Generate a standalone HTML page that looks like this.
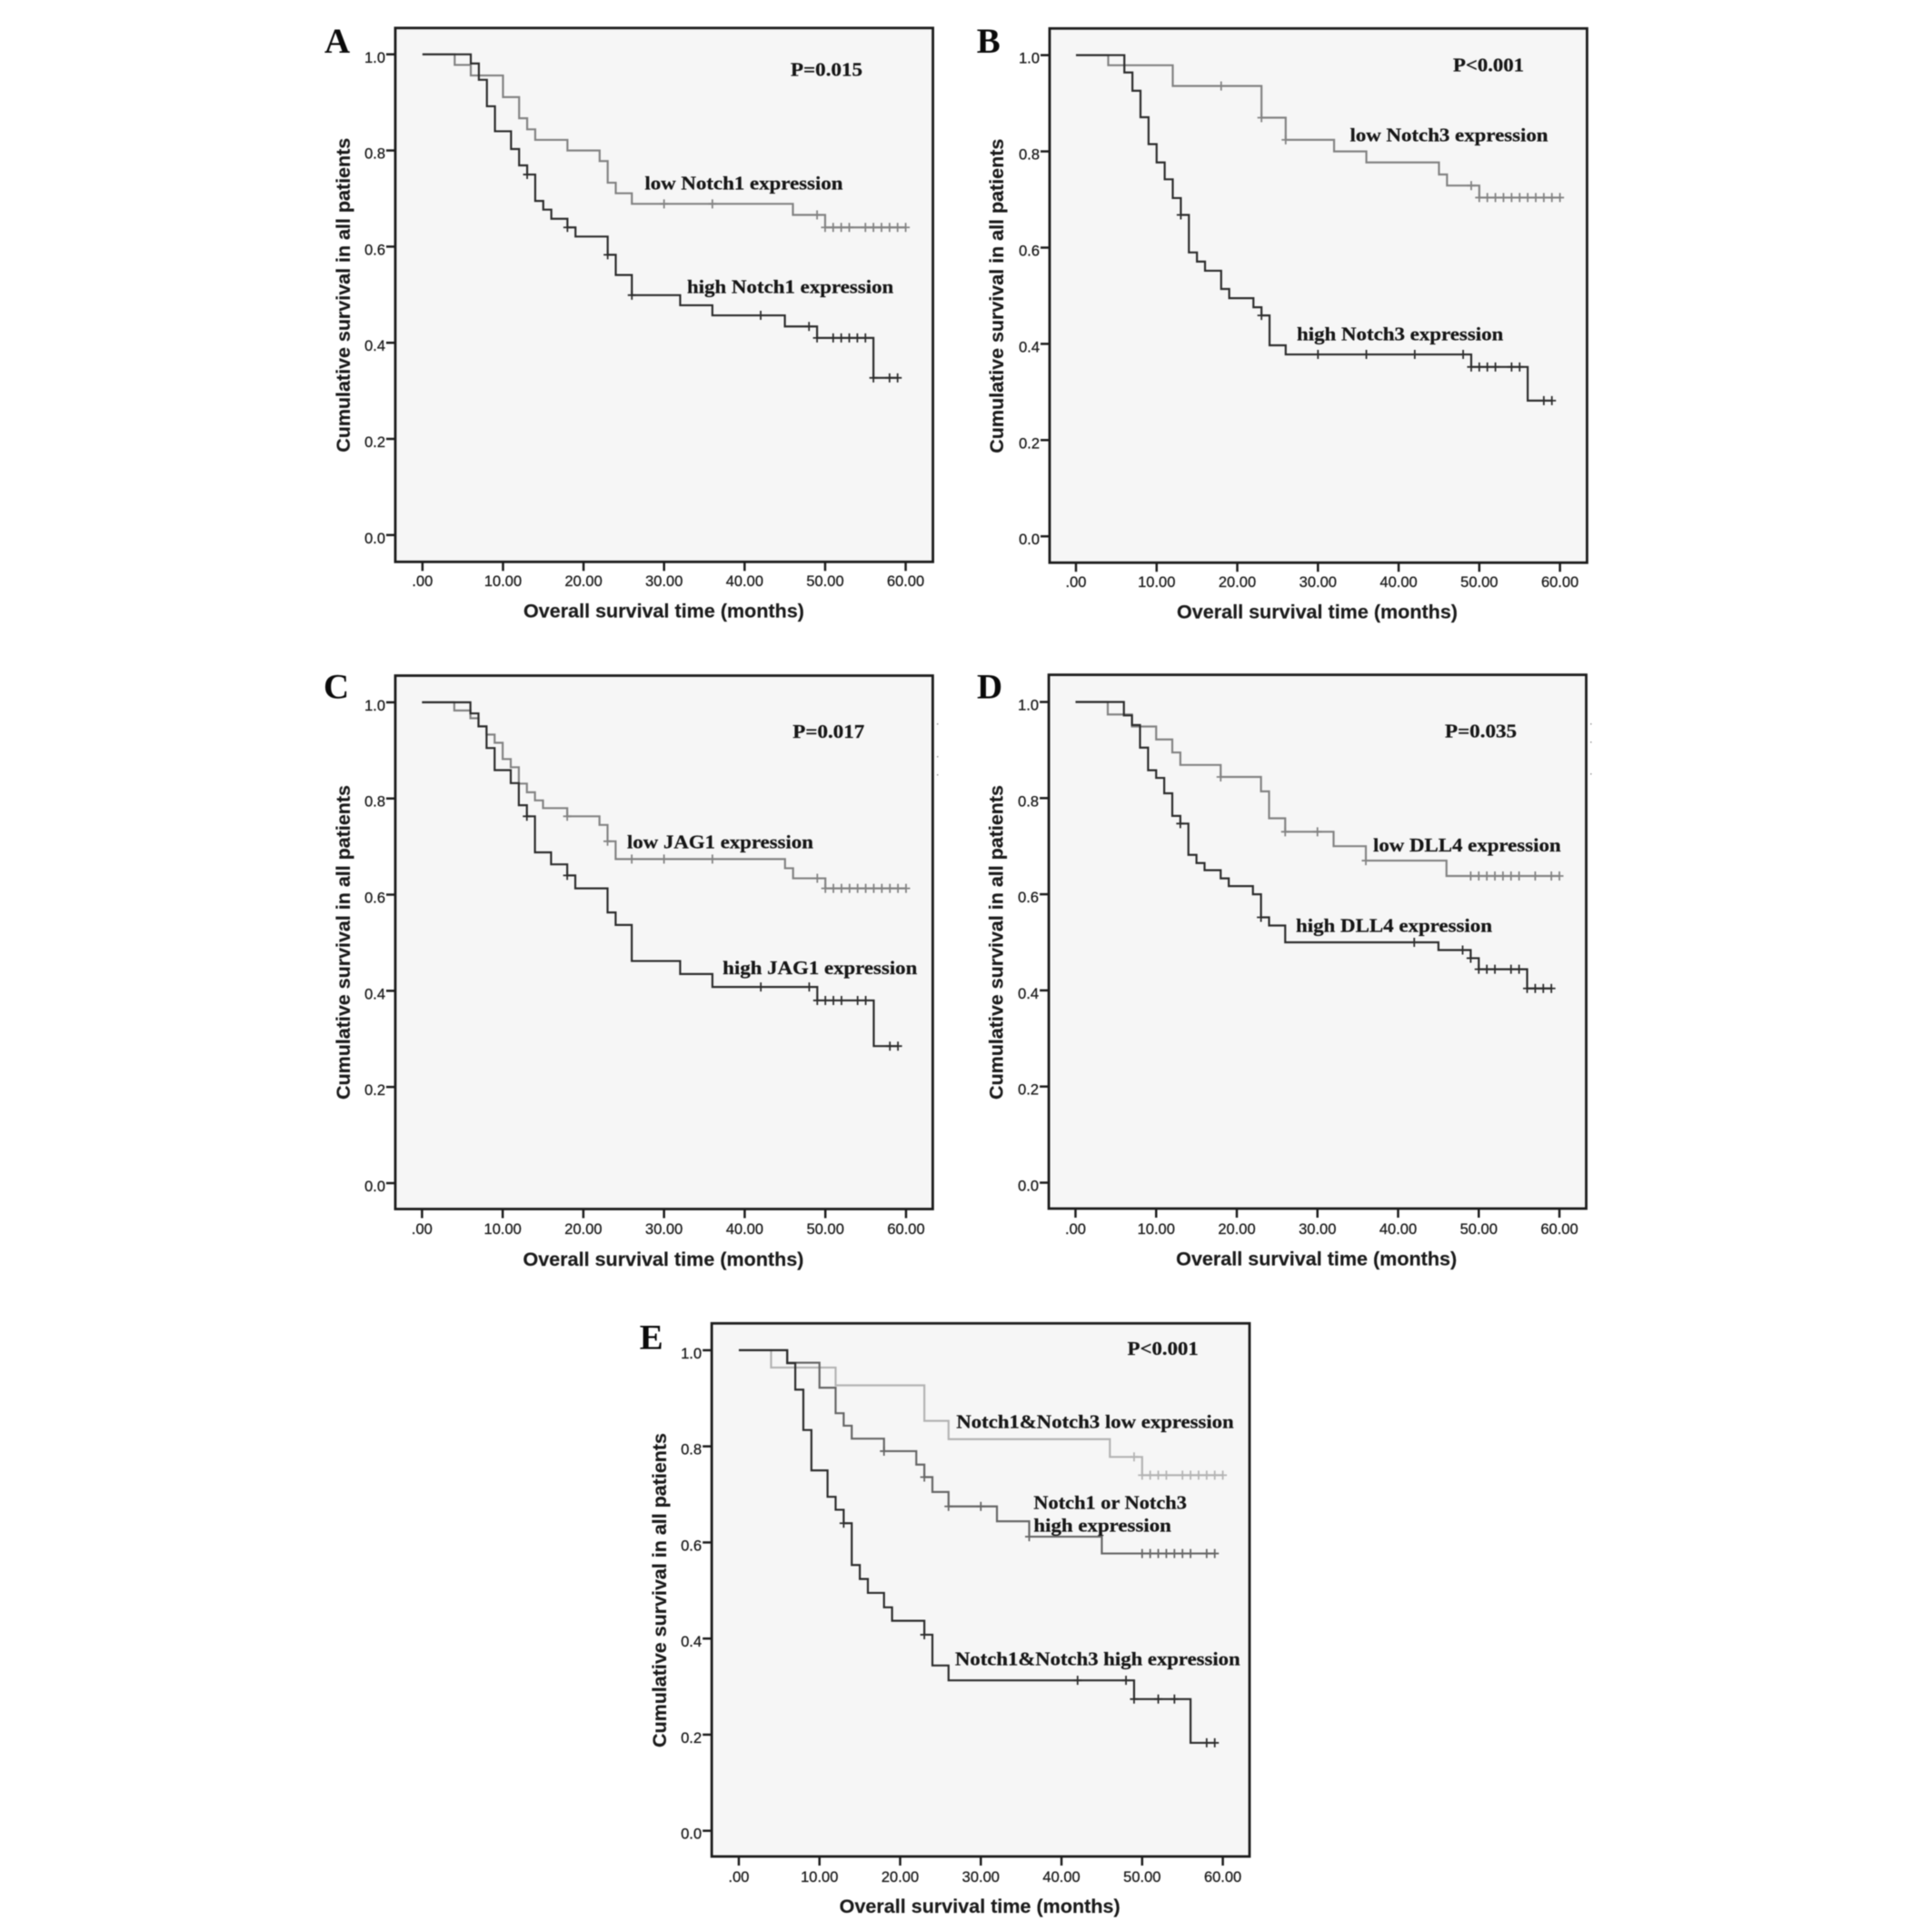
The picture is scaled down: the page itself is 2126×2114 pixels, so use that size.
<!DOCTYPE html>
<html lang="en">
<head>
<meta charset="utf-8">
<title>Kaplan-Meier survival curves</title>
<style>
html,body{margin:0;padding:0;background:#fff;width:2126px;height:2114px;overflow:hidden}
svg{display:block;filter:blur(.4px)}
.frame{fill:#f6f6f6;stroke:#1c1c1c;stroke-width:2.8}
.letter{font:bold 39px "Liberation Serif",serif;fill:#0a0a0a}
.note{font:bold 21px "Liberation Serif",serif;fill:#161616;stroke:#161616;stroke-width:.25}
.axis-title{font:bold 21px "Liberation Sans",sans-serif;fill:#1a1a1a;stroke:#1a1a1a;stroke-width:.15}
.tick-label{font:16.5px "Liberation Sans",sans-serif;fill:#1a1a1a;stroke:#1a1a1a;stroke-width:.3}
</style>
</head>
<body>
<svg id="figure" xmlns="http://www.w3.org/2000/svg" width="2126" height="2114" viewBox="0 0 2126 2114">
  <rect x="0" y="0" width="2126" height="2114" fill="#ffffff"/>

  <g id="panel-a">
    <rect class="frame" x="435" y="30.8" width="591.6" height="587.5"/>
    <text class="letter" x="357" y="58">A</text>
    <text class="note" x="870" y="83.5" textLength="79" lengthAdjust="spacingAndGlyphs">P=0.015</text>
    <text class="note" x="709.5" y="208.5" textLength="218" lengthAdjust="spacingAndGlyphs">low Notch1 expression</text>
    <text class="note" x="756" y="322.5" textLength="227.3" lengthAdjust="spacingAndGlyphs">high Notch1 expression</text>
    <text class="axis-title" x="576" y="679.5" textLength="309" lengthAdjust="spacingAndGlyphs">Overall survival time (months)</text>
    <text class="axis-title" text-anchor="middle" transform="translate(385 324.8) rotate(-90)" textLength="346" lengthAdjust="spacingAndGlyphs">Cumulative survival in all patients</text>
  </g>

  <g id="panel-b">
    <rect class="frame" x="1155" y="31.3" width="591.4" height="587.9"/>
    <text class="letter" x="1074.7" y="58">B</text>
    <text class="note" x="1599" y="78.5" textLength="78" lengthAdjust="spacingAndGlyphs">P&lt;0.001</text>
    <text class="note" x="1485.5" y="155.5" textLength="218" lengthAdjust="spacingAndGlyphs">low Notch3 expression</text>
    <text class="note" x="1427" y="374.5" textLength="227.3" lengthAdjust="spacingAndGlyphs">high Notch3 expression</text>
    <text class="axis-title" x="1295" y="680.4" textLength="309" lengthAdjust="spacingAndGlyphs">Overall survival time (months)</text>
    <text class="axis-title" text-anchor="middle" transform="translate(1104 325.7) rotate(-90)" textLength="346" lengthAdjust="spacingAndGlyphs">Cumulative survival in all patients</text>
  </g>

  <g id="panel-c">
    <rect class="frame" x="435" y="743.5" width="591.4" height="587"/>
    <text class="letter" x="356" y="768.5">C</text>
    <text class="note" x="872.3" y="812.2" textLength="79" lengthAdjust="spacingAndGlyphs">P=0.017</text>
    <text class="note" x="690" y="933.5" textLength="205" lengthAdjust="spacingAndGlyphs">low JAG1 expression</text>
    <text class="note" x="795.3" y="1072" textLength="214" lengthAdjust="spacingAndGlyphs">high JAG1 expression</text>
    <text class="axis-title" x="575.5" y="1393" textLength="309" lengthAdjust="spacingAndGlyphs">Overall survival time (months)</text>
    <text class="axis-title" text-anchor="middle" transform="translate(385 1037) rotate(-90)" textLength="346" lengthAdjust="spacingAndGlyphs">Cumulative survival in all patients</text>
    <rect x="1031" y="796" width="1.5" height="1.5" fill="#999"/>
    <rect x="1031" y="832" width="1.5" height="1.5" fill="#999"/>
    <rect x="1031" y="852" width="1.5" height="1.5" fill="#999"/>
  </g>

  <g id="panel-d">
    <rect class="frame" x="1154.1" y="742.6" width="591.4" height="587.4"/>
    <text class="letter" x="1075" y="768.5">D</text>
    <text class="note" x="1590" y="811.3" textLength="79" lengthAdjust="spacingAndGlyphs">P=0.035</text>
    <text class="note" x="1511" y="937.2" textLength="206.6" lengthAdjust="spacingAndGlyphs">low DLL4 expression</text>
    <text class="note" x="1426" y="1025.5" textLength="216" lengthAdjust="spacingAndGlyphs">high DLL4 expression</text>
    <text class="axis-title" x="1294.2" y="1392.6" textLength="309" lengthAdjust="spacingAndGlyphs">Overall survival time (months)</text>
    <text class="axis-title" text-anchor="middle" transform="translate(1103.5 1037) rotate(-90)" textLength="346" lengthAdjust="spacingAndGlyphs">Cumulative survival in all patients</text>
    <rect x="1750" y="796" width="1.5" height="1.5" fill="#999"/>
    <rect x="1750" y="816" width="1.5" height="1.5" fill="#999"/>
    <rect x="1750" y="851" width="1.5" height="1.5" fill="#999"/>
  </g>

  <g id="panel-e">
    <rect class="frame" x="783.2" y="1456.3" width="591.8" height="586.7"/>
    <text class="letter" x="703.8" y="1484.5">E</text>
    <text class="note" x="1240.7" y="1491.2" textLength="78" lengthAdjust="spacingAndGlyphs">P&lt;0.001</text>
    <text class="note" x="1052.4" y="1571.3" textLength="305.3" lengthAdjust="spacingAndGlyphs">Notch1&amp;Notch3 low expression</text>
    <text class="note" x="1137.4" y="1660.5" textLength="168.5" lengthAdjust="spacingAndGlyphs">Notch1 or Notch3</text>
    <text class="note" x="1137.4" y="1685.5" textLength="151.5" lengthAdjust="spacingAndGlyphs">high expression</text>
    <text class="note" x="1051" y="1832.3" textLength="313.6" lengthAdjust="spacingAndGlyphs">Notch1&amp;Notch3 high expression</text>
    <text class="axis-title" x="923.7" y="2105" textLength="309" lengthAdjust="spacingAndGlyphs">Overall survival time (months)</text>
    <text class="axis-title" text-anchor="middle" transform="translate(733 1750) rotate(-90)" textLength="346" lengthAdjust="spacingAndGlyphs">Cumulative survival in all patients</text>
  </g>
</svg>

<script>
// Shared axis data
const xTickValues = [0, 10, 20, 30, 40, 50, 60];
const xTickLabels = ['.00', '10.00', '20.00', '30.00', '40.00', '50.00', '60.00'];
const yTickValues = [0, 0.2, 0.4, 0.6, 0.8, 1.0];
const yTickLabels = ['0.0', '0.2', '0.4', '0.6', '0.8', '1.0'];

// Panel A
const aLowTimes = [0, 4, 6, 10, 12, 13, 14, 18, 22, 23, 24, 26, 46, 50, 60];
const aLowSurvival = [1, .978, .956, .911, .867, .844, .822, .80, .778, .733, .711, .689, .666, .64, .64];
const aLowCensored = [30, 36, 49, 50, 51, 52, 53, 55, 56, 57, 58, 59, 60];
const aHighTimes = [0, 6, 7, 8, 9, 11, 12, 13, 14, 15, 16, 18, 19, 23, 24, 26, 32, 36, 45, 49, 56, 59];
const aHighSurvival = [1, .981, .947, .892, .84, .803, .769, .75, .695, .677, .658, .64, .621, .583, .541, .499, .478, .457, .434, .41, .327, .327];
const aHighCensored = [13, 18, 23, 26, 42, 48, 49, 51, 52, 53, 54, 55, 56, 58, 59];

// Panel B
const bLowTimes = [0, 4, 12, 23, 26, 32, 36, 45, 46, 50, 60];
const bLowSurvival = [1, .979, .936, .87, .824, .80, .777, .752, .729, .704, .704];
const bLowCensored = [18, 23, 26, 49, 50, 51, 52, 53, 54, 55, 56, 57, 58, 59, 60];
const bHighTimes = [0, 6, 7, 8, 9, 10, 11, 12, 13, 14, 15, 16, 18, 19, 22, 23, 24, 26, 49, 56, 59];
const bHighSurvival = [1, .964, .926, .871, .815, .777, .742, .703, .668, .59, .571, .552, .514, .495, .476, .459, .397, .378, .352, .282, .282];
const bHighCensored = [13, 23, 30, 36, 42, 48, 49, 50, 51, 52, 54, 55, 58, 59];

// Panel C
const cLowTimes = [0, 4, 6, 7, 8, 9, 10, 11, 12, 13, 14, 15, 18, 22, 23, 24, 45, 46, 50, 60];
const cLowSurvival = [1, .983, .967, .95, .933, .916, .882, .865, .831, .813, .796, .78, .763, .745, .711, .674, .655, .634, .613, .613];
const cLowCensored = [18, 23, 26, 30, 36, 49, 50, 51, 52, 53, 54, 55, 56, 57, 58, 59, 60];
const cHighTimes = [0, 6, 7, 8, 9, 11, 12, 13, 14, 16, 18, 19, 23, 24, 26, 32, 36, 49, 56, 59];
const cHighSurvival = [1, .977, .95, .905, .859, .832, .786, .763, .688, .663, .64, .613, .563, .537, .462, .435, .408, .38, .285, .285];
const cHighCensored = [13, 18, 42, 48, 49, 50, 51, 52, 54, 55, 58, 59];

// Panel D
const dLowTimes = [0, 4, 7, 10, 12, 13, 18, 23, 24, 26, 32, 36, 46, 60];
const dLowSurvival = [1, .974, .949, .922, .895, .869, .844, .814, .758, .73, .70, .67, .638, .638];
const dLowCensored = [18, 26, 30, 36, 49, 50, 51, 52, 53, 54, 55, 57, 59, 60];
const dHighTimes = [0, 6, 7, 8, 9, 10, 11, 12, 13, 14, 15, 16, 18, 19, 22, 23, 24, 26, 45, 49, 50, 56, 59];
const dHighSurvival = [1, .972, .952, .905, .858, .842, .81, .763, .747, .682, .665, .65, .633, .617, .60, .552, .535, .50, .484, .467, .444, .404, .404];
const dHighCensored = [13, 23, 42, 48, 49, 50, 51, 52, 54, 55, 56, 57, 58, 59];

// Panel E
const eLowTimes = [0, 4, 12, 23, 26, 46, 50, 60];
const eLowSurvival = [1, .964, .927, .853, .815, .778, .74, .74];
const eLowCensored = [49, 50, 51, 52, 53, 55, 56, 57, 58, 59, 60];
const eMidTimes = [0, 6, 10, 12, 13, 14, 18, 22, 23, 24, 26, 32, 36, 45, 59];
const eMidSurvival = [1, .974, .922, .869, .843, .816, .79, .762, .736, .705, .675, .644, .612, .577, .577];
const eMidCensored = [18, 23, 26, 30, 36, 50, 51, 52, 53, 54, 55, 56, 58, 59];
const eHighTimes = [0, 6, 7, 8, 9, 11, 12, 13, 14, 15, 16, 18, 19, 23, 24, 26, 49, 56, 59];
const eHighSurvival = [1, .973, .918, .834, .75, .695, .668, .64, .553, .524, .495, .465, .437, .408, .344, .313, .274, .183, .183];
const eHighCensored = [13, 23, 42, 48, 49, 52, 54, 58, 59];

const panels = [
  { id: 'a', left: 435, bottom: 618.3, x0: 464.9, x60: 996.6, y1: 59.8, y0: 588.8, tickBaseline: 645,
    series: [
      { name: 'low-notch1', times: aLowTimes, survival: aLowSurvival, censored: aLowCensored, color: '#838383' },
      { name: 'high-notch1', times: aHighTimes, survival: aHighSurvival, censored: aHighCensored, color: '#2c2c2c' } ] },
  { id: 'b', left: 1155, bottom: 619.2, x0: 1184, x60: 1716.6, y1: 60.7, y0: 590.2, tickBaseline: 646,
    series: [
      { name: 'low-notch3', times: bLowTimes, survival: bLowSurvival, censored: bLowCensored, color: '#838383' },
      { name: 'high-notch3', times: bHighTimes, survival: bHighSurvival, censored: bHighCensored, color: '#2c2c2c' } ] },
  { id: 'c', left: 435, bottom: 1330.5, x0: 464.4, x60: 997, y1: 772.9, y0: 1302, tickBaseline: 1358,
    series: [
      { name: 'low-jag1', times: cLowTimes, survival: cLowSurvival, censored: cLowCensored, color: '#838383' },
      { name: 'high-jag1', times: cHighTimes, survival: cHighSurvival, censored: cHighCensored, color: '#2c2c2c' } ] },
  { id: 'd', left: 1154.1, bottom: 1330, x0: 1183.5, x60: 1716, y1: 772.5, y0: 1301.5, tickBaseline: 1358,
    series: [
      { name: 'low-dll4', times: dLowTimes, survival: dLowSurvival, censored: dLowCensored, color: '#838383' },
      { name: 'high-dll4', times: dHighTimes, survival: dHighSurvival, censored: dHighCensored, color: '#2c2c2c' } ] },
  { id: 'e', left: 783.2, bottom: 2043, x0: 813, x60: 1345.6, y1: 1485.9, y0: 2014.7, tickBaseline: 2071,
    series: [
      { name: 'both-low', times: eLowTimes, survival: eLowSurvival, censored: eLowCensored, color: '#b4b4b4' },
      { name: 'either-high', times: eMidTimes, survival: eMidSurvival, censored: eMidCensored, color: '#666666' },
      { name: 'both-high', times: eHighTimes, survival: eHighSurvival, censored: eHighCensored, color: '#2c2c2c' } ] }
];

const NS = 'http://www.w3.org/2000/svg';

function survivalAt(series, t) {
  let value = series.survival[0];
  for (let i = 0; i < series.times.length; i++) {
    if (series.times[i] <= t) value = series.survival[i];
  }
  return value;
}

function drawPanel(panel) {
  const group = document.getElementById('panel-' + panel.id);
  const xScale = function (t) { return panel.x0 + (t / 60) * (panel.x60 - panel.x0); };
  const yScale = function (s) { return panel.y0 + s * (panel.y1 - panel.y0); };

  xTickValues.forEach(function (value, i) {
    const tick = document.createElementNS(NS, 'line');
    
    
    tick.setAttribute('x1', xScale(value));
    tick.setAttribute('x2', xScale(value));
    tick.setAttribute('y1', panel.bottom);
    tick.setAttribute('y2', panel.bottom + 10);
    tick.setAttribute('stroke', '#1c1c1c');
    tick.setAttribute('stroke-width', '2.5');
    group.appendChild(tick);

    const label = document.createElementNS(NS, 'text');
    
    
    label.setAttribute('class', 'tick-label');
    label.setAttribute('x', xScale(value));
    label.setAttribute('y', panel.tickBaseline);
    label.setAttribute('text-anchor', 'middle');
    label.textContent = xTickLabels[i];
    group.appendChild(label);
  });

  yTickValues.forEach(function (value, i) {
    const tick = document.createElementNS(NS, 'line');
    
    
    tick.setAttribute('x1', panel.left - 10);
    tick.setAttribute('x2', panel.left);
    tick.setAttribute('y1', yScale(value));
    tick.setAttribute('y2', yScale(value));
    tick.setAttribute('stroke', '#1c1c1c');
    tick.setAttribute('stroke-width', '2.5');
    group.appendChild(tick);

    const label = document.createElementNS(NS, 'text');
    
    
    label.setAttribute('class', 'tick-label');
    label.setAttribute('x', panel.left - 11);
    label.setAttribute('y', yScale(value) + 9);
    label.setAttribute('text-anchor', 'end');
    label.textContent = yTickLabels[i];
    group.appendChild(label);
  });

  panel.series.forEach(function (series) {
    let d = 'M' + xScale(series.times[0]) + ' ' + yScale(series.survival[0]);
    for (let i = 1; i < series.times.length; i++) {
      d += 'H' + xScale(series.times[i]) + 'V' + yScale(series.survival[i]);
    }
    const curve = document.createElementNS(NS, 'path');
    
    
    curve.setAttribute('d', d);
    curve.setAttribute('fill', 'none');
    curve.setAttribute('stroke', series.color);
    curve.setAttribute('stroke-width', '2.2');
    group.appendChild(curve);

    series.censored.forEach(function (t) {
      const cx = xScale(t);
      const cy = yScale(survivalAt(series, t));
      const mark = document.createElementNS(NS, 'path');
      
      
      mark.setAttribute('d', 'M' + cx + ' ' + (cy - 5) + 'V' + (cy + 5) + 'M' + (cx - 4.5) + ' ' + cy + 'H' + (cx + 4.5));
      mark.setAttribute('fill', 'none');
      mark.setAttribute('stroke', series.color);
      mark.setAttribute('stroke-width', '1.8');
      group.appendChild(mark);
    });
  });
}

panels.forEach(drawPanel);
</script>
</body>
</html>
